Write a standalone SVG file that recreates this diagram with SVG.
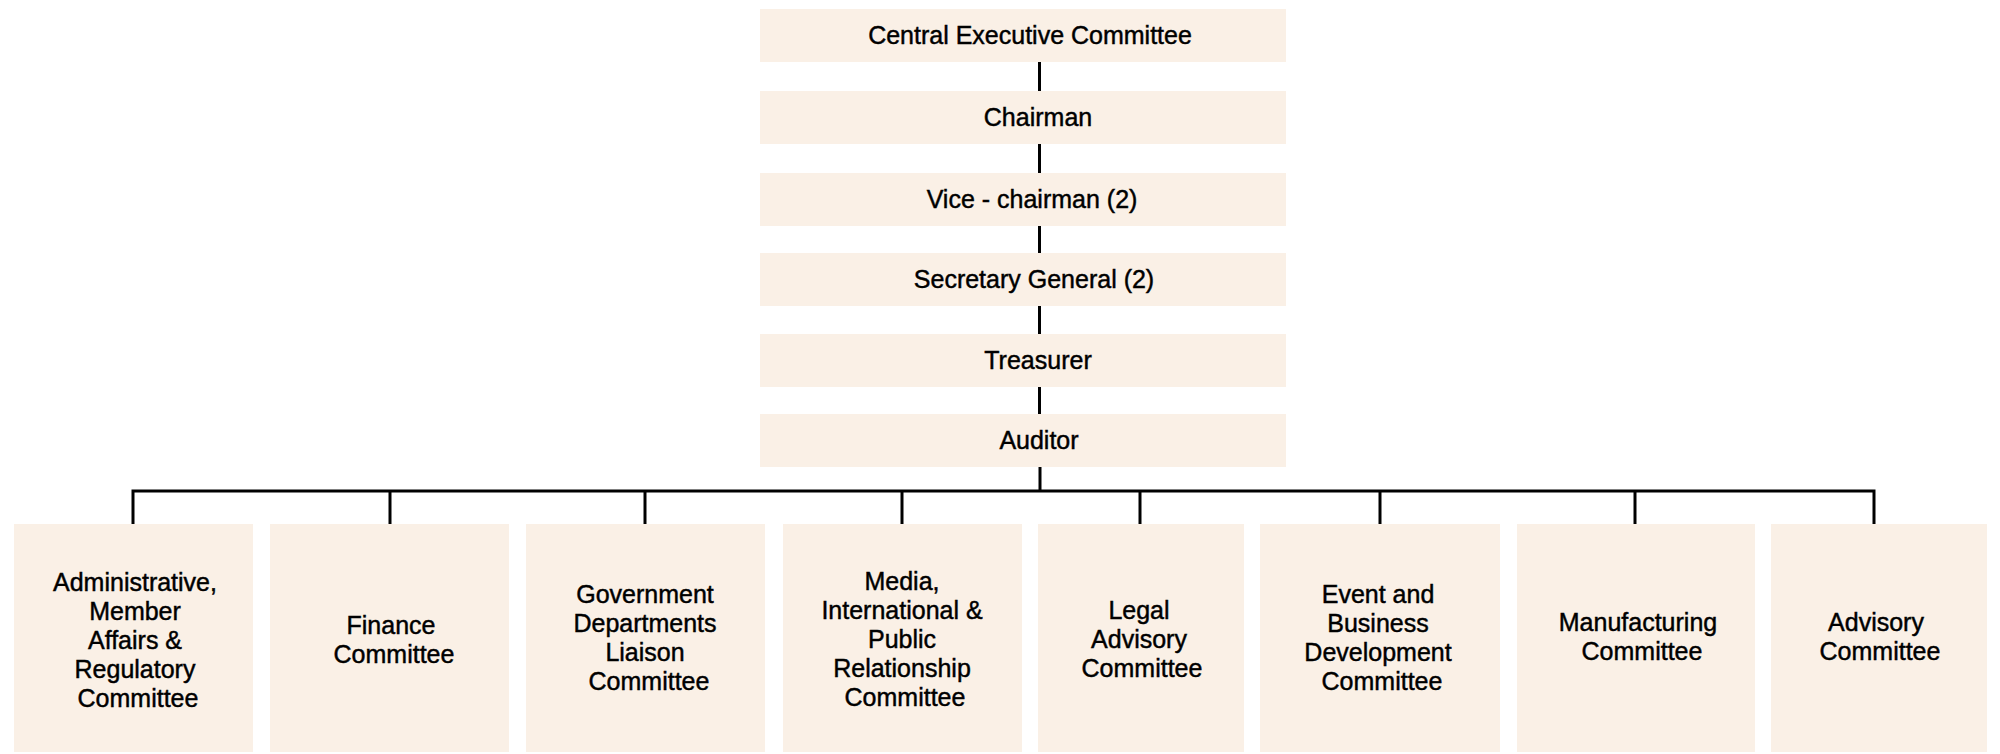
<svg xmlns="http://www.w3.org/2000/svg" width="2000" height="754" viewBox="0 0 2000 754">
<style>
.box{fill:#FAF0E6;}
.t{font-family:"Liberation Sans",Arial,sans-serif;font-size:25px;fill:#000;stroke:#000;stroke-width:0.45;text-anchor:middle;}
.c{stroke:#000;stroke-width:3;fill:none;}
</style>
<rect x="0" y="0" width="2000" height="754" fill="#ffffff"/>
<g id="connectors" class="c">
<line x1="1039.5" y1="61" x2="1039.5" y2="92"/>
<line x1="1039.5" y1="143" x2="1039.5" y2="174"/>
<line x1="1039.5" y1="225" x2="1039.5" y2="254"/>
<line x1="1039.5" y1="305" x2="1039.5" y2="335"/>
<line x1="1039.5" y1="386" x2="1039.5" y2="415"/>
<line x1="1040" y1="466" x2="1040" y2="491"/>
<path d="M133 524 V491 H1874 V524"/>
<line x1="390" y1="491" x2="390" y2="524"/>
<line x1="645" y1="491" x2="645" y2="524"/>
<line x1="902" y1="491" x2="902" y2="524"/>
<line x1="1140" y1="491" x2="1140" y2="524"/>
<line x1="1380" y1="491" x2="1380" y2="524"/>
<line x1="1635" y1="491" x2="1635" y2="524"/>
</g>
<g id="n-cec"><rect class="box" x="760" y="9" width="526" height="53"/><text class="t" x="1030" y="43.5">Central Executive Committee</text></g>
<g id="n-chairman"><rect class="box" x="760" y="91" width="526" height="53"/><text class="t" x="1038" y="125.5">Chairman</text></g>
<g id="n-vice"><rect class="box" x="760" y="173" width="526" height="53"/><text class="t" x="1032" y="207.5">Vice - chairman (2)</text></g>
<g id="n-secretary"><rect class="box" x="760" y="253" width="526" height="53"/><text class="t" x="1034" y="287.5">Secretary General (2)</text></g>
<g id="n-treasurer"><rect class="box" x="760" y="334" width="526" height="53"/><text class="t" x="1038" y="368.5">Treasurer</text></g>
<g id="n-auditor"><rect class="box" x="760" y="414" width="526" height="53"/><text class="t" x="1039" y="448.5">Auditor</text></g>
<g id="n-admin"><rect class="box" x="14" y="524" width="239" height="228"/>
<text class="t"><tspan x="135" y="591">Administrative,</tspan><tspan x="135" y="620">Member</tspan><tspan x="135" y="649">Affairs &amp;</tspan><tspan x="135" y="678">Regulatory</tspan><tspan x="138" y="707">Committee</tspan></text></g>
<g id="n-finance"><rect class="box" x="270" y="524" width="239" height="228"/>
<text class="t"><tspan x="391" y="633.5">Finance</tspan><tspan x="394" y="662.5">Committee</tspan></text></g>
<g id="n-gov"><rect class="box" x="526" y="524" width="239" height="228"/>
<text class="t"><tspan x="645" y="603">Government</tspan><tspan x="645" y="632">Departments</tspan><tspan x="645" y="661">Liaison</tspan><tspan x="649" y="690">Committee</tspan></text></g>
<g id="n-media"><rect class="box" x="783" y="524" width="239" height="228"/>
<text class="t"><tspan x="902" y="590">Media,</tspan><tspan x="902" y="619">International &amp;</tspan><tspan x="902" y="648">Public</tspan><tspan x="902" y="677">Relationship</tspan><tspan x="905" y="706">Committee</tspan></text></g>
<g id="n-legal"><rect class="box" x="1038" y="524" width="206" height="228"/>
<text class="t"><tspan x="1139" y="619">Legal</tspan><tspan x="1139" y="648">Advisory</tspan><tspan x="1142" y="677">Committee</tspan></text></g>
<g id="n-event"><rect class="box" x="1260" y="524" width="240" height="228"/>
<text class="t"><tspan x="1378" y="603">Event and</tspan><tspan x="1378" y="632">Business</tspan><tspan x="1378" y="661">Development</tspan><tspan x="1382" y="690">Committee</tspan></text></g>
<g id="n-manufacturing"><rect class="box" x="1517" y="524" width="238" height="228"/>
<text class="t"><tspan x="1638" y="631">Manufacturing</tspan><tspan x="1642" y="660">Committee</tspan></text></g>
<g id="n-advisory"><rect class="box" x="1771" y="524" width="216" height="228"/>
<text class="t"><tspan x="1876" y="631">Advisory</tspan><tspan x="1880" y="660">Committee</tspan></text></g>
</svg>
